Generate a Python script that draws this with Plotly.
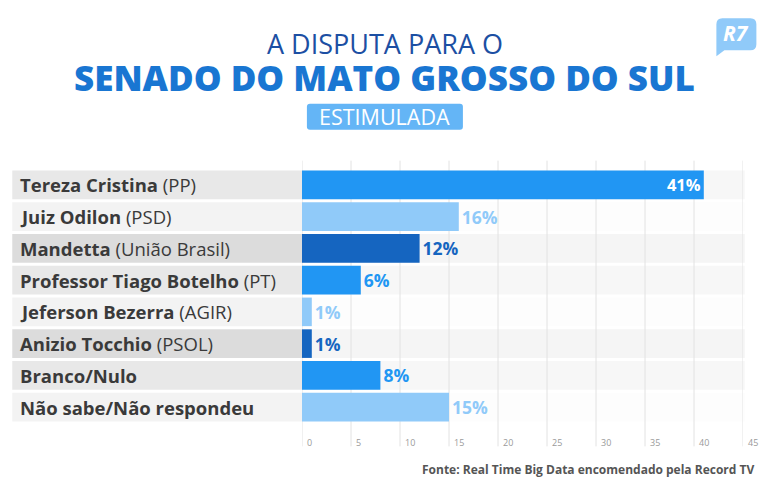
import plotly.graph_objects as go

# data
names = ["Tereza Cristina", "Juiz Odilon", "Mandetta", "Professor Tiago Botelho",
         "Jeferson Bezerra", "Anizio Tocchio", "Branco/Nulo", "Não sabe/Não respondeu"]
parties = ["(PP)", "(PSD)", "(União Brasil)", "(PT)", "(AGIR)", "(PSOL)", "", ""]
values = [41, 16, 12, 6, 1, 1, 8, 15]
tick_vals = [0, 5, 10, 15, 20, 25, 30, 35, 40, 45]

bar_colors = ["#2196f3", "#90caf9", "#1565c0"]
label_bg = ["#e8e8e8", "#f3f3f3", "#dcdcdc"]
plot_bg = ["#f7f7f7", "#fdfdfd", "#f5f5f5"]

FONT = "Open Sans"
rows = list(range(len(names)))
colors = [bar_colors[i % 3] for i in rows]
text_pos = ["inside" if v > 30 else "outside" for v in values]
text_col = ["white" if v > 30 else colors[i] for i, v in enumerate(values)]

fig = go.Figure()
fig.add_trace(go.Bar(
    x=values, y=rows, orientation="h",
    marker=dict(color=colors, line=dict(width=0)),
    text=[f"<b>{v}%</b>" for v in values],
    textposition=text_pos, insidetextanchor="end",
    textfont=dict(family=FONT, size=17.5, color=text_col),
    cliponaxis=False, hoverinfo="skip",
))

shapes = []
annotations = []
for i in rows:
    # row bands: label area and plot area
    shapes.append(dict(type="rect", xref="paper", yref="y", x0=-0.657, x1=0,
                       y0=i - 0.45, y1=i + 0.45, fillcolor=label_bg[i % 3],
                       line=dict(width=0), layer="below"))
    shapes.append(dict(type="rect", xref="paper", yref="y", x0=0, x1=1.004,
                       y0=i - 0.45, y1=i + 0.45, fillcolor=plot_bg[i % 3],
                       line=dict(width=0), layer="below"))
    lab = f"<b>{names[i]}</b>" + (f" {parties[i]}" if parties[i] else "")
    annotations.append(dict(text=lab, xref="paper", yref="y", x=-0.645, y=i,
                            xanchor="left", yanchor="middle", showarrow=False,
                            font=dict(family=FONT, size=18.5, color="#3a3a3a")))

for t in tick_vals:
    shapes.append(dict(type="line", xref="x", yref="paper", x0=t, x1=t,
                       y0=-0.092, y1=1.033, line=dict(color="#e2e2e2", width=1),
                       layer="below"))
    annotations.append(dict(text=str(t), xref="x", yref="paper", x=t, y=-0.076,
                            xanchor="left", yanchor="middle", xshift=3, showarrow=False,
                            font=dict(family=FONT, size=9, color="#9a9a9a")))

# header texts
annotations += [
    dict(text="A DISPUTA PARA O", xref="paper", yref="paper", x=0.188, y=1.494,
         xanchor="center", yanchor="middle",
         showarrow=False, font=dict(family=FONT, size=27, color="#1c4fa3")),
    dict(text="SENADO DO MATO GROSSO DO SUL", xref="paper", yref="paper",
         x=0.188, y=1.36, xanchor="center", yanchor="middle", showarrow=False,
         font=dict(family=FONT, size=35, color="#1976d2", weight=800)),
    dict(text="ESTIMULADA", xref="paper", yref="paper", x=0.188, y=1.206,
         xanchor="center", yanchor="middle",
         showarrow=False, font=dict(family=FONT, size=21.5, color="white")),
    dict(text="<b><i>R7</i></b>", xref="paper", yref="paper", x=0.985, y=1.535,
         xanchor="center", yanchor="middle",
         showarrow=False, font=dict(family=FONT, size=21, color="white")),
    dict(text="<b>Fonte: Real Time Big Data encomendado pela Record TV</b>",
         xref="paper", yref="paper", x=1.0306, y=-0.182, xanchor="right",
         yanchor="middle",
         showarrow=False, font=dict(family=FONT, size=12, color="#555555")),
]

# badge behind "ESTIMULADA"
shapes.append(dict(type="path", xref="paper", yref="paper", xsizemode="pixel",
                   ysizemode="pixel", xanchor=0.188, yanchor=1.206,
                   path="M -75 -13 L 75 -13 Q 78 -13 78 -10 L 78 10 Q 78 13 75 13 "
                        "L -75 13 Q -78 13 -78 10 L -78 -10 Q -78 -13 -75 -13 Z",
                   fillcolor="#64b5f6", line=dict(width=0), layer="below"))
# R7 logo bubble
shapes.append(dict(type="path", xref="paper", yref="paper", xsizemode="pixel",
                   ysizemode="pixel", xanchor=0.985, yanchor=1.527,
                   path="M -14 17 L 14 17 Q 20 17 20 11 L 20 -9 Q 20 -15 14 -15 "
                        "L -12 -15 L -20 -21 L -20 11 Q -20 17 -14 17 Z",
                   fillcolor="#90caf9", line=dict(width=0), layer="below"))

fig.update_layout(
    width=770, height=491,
    margin=dict(l=302, r=26.5, t=168.5, b=67.5),
    paper_bgcolor="white", plot_bgcolor="rgba(0,0,0,0)",
    showlegend=False, bargap=0.1,
    shapes=shapes, annotations=annotations,
    xaxis=dict(range=[0, 45], showgrid=False, zeroline=False,
               showticklabels=False, fixedrange=True),
    yaxis=dict(range=[7.5, -0.5], showgrid=False, zeroline=False,
               showticklabels=False, fixedrange=True),
)

fig.write_html("out.html", config={"displayModeBar": False},
               post_script="document.body.style.margin='0';")
